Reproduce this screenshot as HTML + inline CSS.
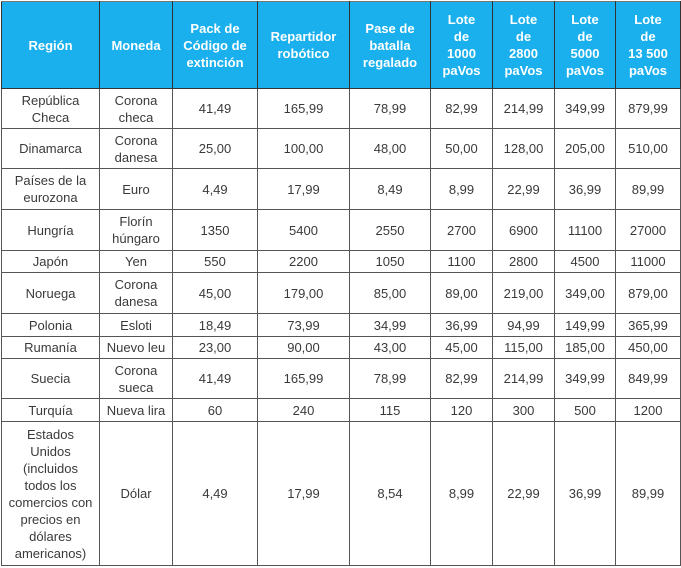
<!DOCTYPE html>
<html><head><meta charset="utf-8"><style>
body{margin:0;background:#fff;width:681px;height:568px;overflow:hidden}
table{position:absolute;left:1px;top:1px;border-collapse:collapse;table-layout:fixed;width:679px;font-family:"Liberation Sans",sans-serif;font-size:13px;color:#3a3a3a}
td,th{border:1px solid #555;text-align:center;vertical-align:middle;padding:0 2px;line-height:17px;white-space:nowrap}
th{background:#1ab0ee;color:#fff;font-weight:bold;border-color:#333;border-top:1px solid #777}
</style></head><body>
<table>
<colgroup><col style="width:98px"><col style="width:73px"><col style="width:85px"><col style="width:92px"><col style="width:81px"><col style="width:62px"><col style="width:62px"><col style="width:61px"><col style="width:65px"></colgroup>
<tr style="height:87px"><th>Región</th><th>Moneda</th><th>Pack de<br>Código de<br>extinción</th><th>Repartidor<br>robótico</th><th>Pase de<br>batalla<br>regalado</th><th>Lote<br>de<br>1000<br>paVos</th><th>Lote<br>de<br>2800<br>paVos</th><th>Lote<br>de<br>5000<br>paVos</th><th>Lote<br>de<br>13 500<br>paVos</th></tr>
<tr style="height:40px"><td>República<br>Checa</td><td>Corona<br>checa</td><td>41,49</td><td>165,99</td><td>78,99</td><td>82,99</td><td>214,99</td><td>349,99</td><td>879,99</td></tr>
<tr style="height:40px"><td>Dinamarca</td><td>Corona<br>danesa</td><td>25,00</td><td>100,00</td><td>48,00</td><td>50,00</td><td>128,00</td><td>205,00</td><td>510,00</td></tr>
<tr style="height:41px"><td>Países de la<br>eurozona</td><td>Euro</td><td>4,49</td><td>17,99</td><td>8,49</td><td>8,99</td><td>22,99</td><td>36,99</td><td>89,99</td></tr>
<tr style="height:41px"><td>Hungría</td><td>Florín<br>húngaro</td><td>1350</td><td>5400</td><td>2550</td><td>2700</td><td>6900</td><td>11100</td><td>27000</td></tr>
<tr style="height:22px"><td>Japón</td><td>Yen</td><td>550</td><td>2200</td><td>1050</td><td>1100</td><td>2800</td><td>4500</td><td>11000</td></tr>
<tr style="height:41px"><td>Noruega</td><td>Corona<br>danesa</td><td>45,00</td><td>179,00</td><td>85,00</td><td>89,00</td><td>219,00</td><td>349,00</td><td>879,00</td></tr>
<tr style="height:23px"><td>Polonia</td><td>Esloti</td><td>18,49</td><td>73,99</td><td>34,99</td><td>36,99</td><td>94,99</td><td>149,99</td><td>365,99</td></tr>
<tr style="height:22px"><td>Rumanía</td><td>Nuevo leu</td><td>23,00</td><td>90,00</td><td>43,00</td><td>45,00</td><td>115,00</td><td>185,00</td><td>450,00</td></tr>
<tr style="height:40px"><td>Suecia</td><td>Corona<br>sueca</td><td>41,49</td><td>165,99</td><td>78,99</td><td>82,99</td><td>214,99</td><td>349,99</td><td>849,99</td></tr>
<tr style="height:23px"><td>Turquía</td><td>Nueva lira</td><td>60</td><td>240</td><td>115</td><td>120</td><td>300</td><td>500</td><td>1200</td></tr>
<tr style="height:144px"><td>Estados<br>Unidos<br>(incluidos<br>todos los<br>comercios con<br>precios en<br>dólares<br>americanos)</td><td>Dólar</td><td>4,49</td><td>17,99</td><td>8,54</td><td>8,99</td><td>22,99</td><td>36,99</td><td>89,99</td></tr>
</table>
</body></html>
